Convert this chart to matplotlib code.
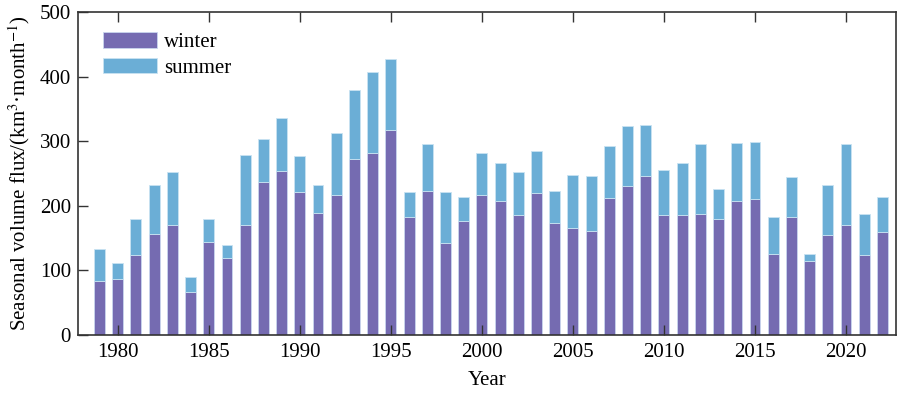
import matplotlib
matplotlib.use("Agg")
import matplotlib.pyplot as plt
import numpy as np

years = list(range(1979, 2023))
winter = [84, 86, 124, 157, 170, 66, 144, 119, 171, 236, 254, 221, 189, 217, 272,
          282, 318, 182, 223, 143, 177, 216, 207, 186, 220, 174, 166, 161, 212, 231,
          246, 185, 185, 188, 180, 208, 211, 125, 182, 114, 154, 170, 124, 160]
total = [133, 111, 180, 232, 253, 90, 179, 140, 278, 304, 336, 277, 232, 312, 379,
         407, 427, 222, 295, 222, 214, 281, 266, 252, 284, 223, 248, 246, 293, 323,
         325, 255, 266, 296, 226, 297, 298, 182, 245, 126, 232, 296, 188, 213]
summer = [t - w for t, w in zip(total, winter)]

plt.rcParams['font.family'] = ['Liberation Serif', 'DejaVu Serif']
plt.rcParams['mathtext.fontset'] = 'stix'

fig = plt.figure(figsize=(8.97, 3.96), dpi=100)
ax = fig.add_axes([0.087, 0.154, 0.912, 0.816])

c_w = '#756bb1'
c_s = '#6baed6'
ax.bar(years, winter, width=0.6, color=c_w, edgecolor='#c9d6ee', linewidth=0.6, label='winter')
ax.bar(years, summer, width=0.6, bottom=winter, color=c_s, edgecolor='#c9e3f2', linewidth=0.6, label='summer')

fs = 15
ax.set_xlim(1977.82, 2022.75)
ax.set_ylim(0, 500)
ax.set_xticks([1980, 1985, 1990, 1995, 2000, 2005, 2010, 2015, 2020])
ax.set_yticks([0, 100, 200, 300, 400, 500])
ax.tick_params(axis='both', direction='in', labelsize=fs, length=7, width=1, color='#333333')
ax.tick_params(axis='x', top=True, pad=6)
ax.tick_params(axis='y', pad=5)
for s in ax.spines.values():
    s.set_linewidth(1.2)
    s.set_color('#333333')

ax.set_xlabel('Year', fontsize=fs, labelpad=6)
ax.set_ylabel(r'Seasonal volume flux/(km$^3$·month$^{-1}$)', fontsize=fs, labelpad=6)

ax.legend(loc='upper left', bbox_to_anchor=(0.015, 0.975), frameon=False, fontsize=fs,
          handlelength=2.6, handleheight=0.77, handletextpad=0.35, labelspacing=0.25,
          borderaxespad=0.2)

fig.savefig('out.png', dpi=100)
